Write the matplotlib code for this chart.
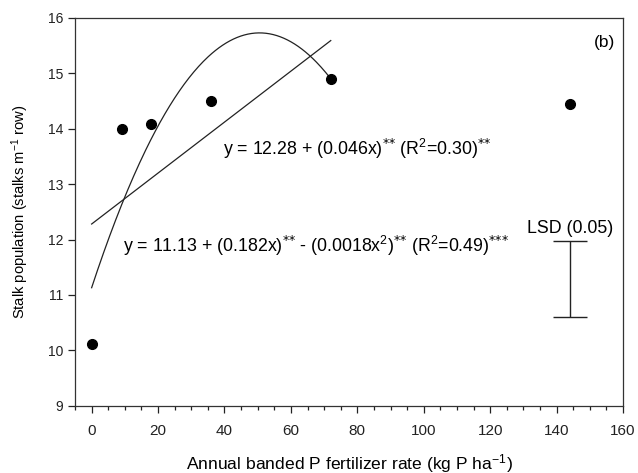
import numpy as np
import matplotlib
matplotlib.use('Agg')
import matplotlib.pyplot as plt
from matplotlib.ticker import MultipleLocator

plt.rcParams['font.family'] = ['Liberation Sans', 'DejaVu Sans']
plt.rcParams['mathtext.default'] = 'regular'

# annual banded P rate vs stalk population
p_rate = [0, 9, 18, 36, 72, 144]
stalks = [10.12, 14.0, 14.08, 14.5, 14.9, 14.45]

# regression coefficients (fit over 0-72 kg P/ha)
lin_coef = [12.28, 0.046]
quad_coef = [11.13, 0.182, -0.0018]
fit_max = 72

# LSD bar
lsd_x = 144
lsd_low, lsd_high = 10.6, 11.98

fig = plt.figure(figsize=(6.38, 4.73), dpi=100)
ax = fig.add_axes([0.1176, 0.1423, 0.8589, 0.8197])

xf = np.linspace(0, fit_max, 200)
ax.plot(xf, lin_coef[0] + lin_coef[1] * xf, color='#222222', lw=0.9)
ax.plot(xf, quad_coef[0] + quad_coef[1] * xf + quad_coef[2] * xf**2, color='#222222', lw=0.9)
ax.plot(p_rate, stalks, 'o', color='black', ms=7, ls='none')

ax.errorbar([lsd_x], [(lsd_low + lsd_high) / 2], yerr=[(lsd_high - lsd_low) / 2],
            fmt='none', ecolor='#222222', elinewidth=1.0, capsize=12, capthick=1.0)

st2 = r'$^{\text{**}}$'
st3 = r'$^{\text{***}}$'
fs = 12.8
ax.text(lsd_x, 12.12, 'LSD (0.05)', ha='center', va='baseline', fontsize=fs)
ax.text(39.5, 13.53, 'y = 12.28 + (0.046x)' + st2 + ' (R$^2$=0.30)' + st2,
        ha='left', va='baseline', fontsize=fs)
ax.text(9.4, 11.78, 'y = 11.13 + (0.182x)' + st2 + ' - (0.0018x$^2$)' + st2 + ' (R$^2$=0.49)' + st3,
        ha='left', va='baseline', fontsize=fs)
ax.text(157.6, 15.48, '(b)', ha='right', va='baseline', fontsize=12.5)

ax.set_xlim(-5, 160)
ax.set_ylim(9, 16)
ax.xaxis.set_major_locator(MultipleLocator(20))
ax.xaxis.set_minor_locator(MultipleLocator(5))
ax.yaxis.set_major_locator(MultipleLocator(1))
ax.tick_params(which='both', direction='out', top=False, right=False, colors='#222222')
ax.tick_params(axis='x', labelsize=11, pad=8)
ax.tick_params(axis='y', labelsize=10)
ax.tick_params(which='major', length=5, width=0.9)
ax.tick_params(which='minor', length=3, width=0.9)
for s in ax.spines.values():
    s.set_color('#333333')
    s.set_linewidth(0.9)

ax.set_xlabel('Annual banded P fertilizer rate (kg P ha$^{-1}$)', fontsize=12.6, labelpad=10)
ax.set_ylabel('Stalk population (stalks m$^{-1}$ row)', fontsize=10.6, labelpad=12)

fig.savefig('out.png', dpi=100)
